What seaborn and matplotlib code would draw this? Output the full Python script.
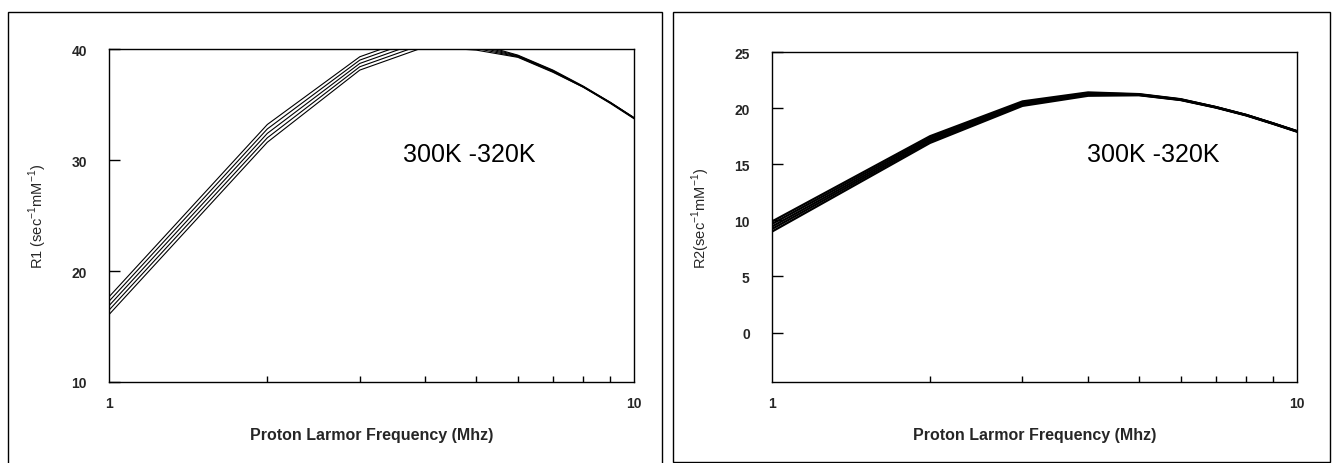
import matplotlib
matplotlib.use("Agg")
import matplotlib.pyplot as plt
import matplotlib.ticker as mticker
from matplotlib.patches import Rectangle
import seaborn as sns
import pandas as pd

# ---- data ----
freq = [1, 2, 3, 4, 5, 6, 7, 8, 9, 10]
temps = ["300K", "305K", "310K", "315K", "320K"]

r1_300 = [17.7, 33.2, 39.3, 41.4, 40.5, 39.45, 38.1, 36.65, 35.2, 33.8]
r1_305 = [17.3, 32.8, 39.0, 41.1, 40.35, 39.4, 38.05, 36.6, 35.2, 33.8]
r1_310 = [16.9, 32.4, 38.7, 40.8, 40.2, 39.35, 38.0, 36.6, 35.15, 33.75]
r1_315 = [16.5, 32.0, 38.4, 40.5, 40.05, 39.3, 37.95, 36.55, 35.15, 33.75]
r1_320 = [16.1, 31.6, 38.1, 40.2, 39.9, 39.25, 37.9, 36.55, 35.1, 33.7]

r2_300 = [9.9, 17.5, 20.6, 21.4, 21.25, 20.8, 20.1, 19.4, 18.65, 17.95]
r2_305 = [9.68, 17.35, 20.5, 21.33, 21.22, 20.78, 20.1, 19.4, 18.65, 17.95]
r2_310 = [9.45, 17.2, 20.4, 21.25, 21.2, 20.76, 20.08, 19.38, 18.63, 17.93]
r2_315 = [9.23, 17.05, 20.3, 21.18, 21.17, 20.74, 20.07, 19.37, 18.62, 17.92]
r2_320 = [9.0, 16.9, 20.2, 21.1, 21.15, 20.72, 20.05, 19.35, 18.6, 17.9]

r1_yticks = [10, 20, 30, 40]
r2_yticks = [0, 5, 10, 15, 20, 25]
annot = "300K -320K"
xlabel = "Proton Larmor Frequency (Mhz)"
ylabel1 = r"R1 (sec$^{\mathregular{-1}}$mM$^{\mathregular{-1}}$)"
ylabel2 = r"R2(sec$^{\mathregular{-1}}$mM$^{\mathregular{-1}}$)"


def long_df(series):
    rows = []
    for t, vals in zip(temps, series):
        for f, v in zip(freq, vals):
            rows.append({"freq": f, "val": v, "T": t})
    return pd.DataFrame(rows)


df1 = long_df([r1_300, r1_305, r1_310, r1_315, r1_320])
df2 = long_df([r2_300, r2_305, r2_310, r2_315, r2_320])

sns.set_theme(style="white")
plt.rcParams["font.family"] = ["Liberation Sans", "DejaVu Sans"]
plt.rcParams["mathtext.fontset"] = "custom"
plt.rcParams["mathtext.rm"] = "Liberation Sans"

fig = plt.figure(figsize=(13.33, 4.64), dpi=100)
fig.patch.set_facecolor("white")

ax1 = fig.add_axes([109.3 / 1333, 1 - 383 / 464, 525 / 1333, 333 / 464])
ax2 = fig.add_axes([772 / 1333, 1 - 383 / 464, 525 / 1333, 330 / 464])

pal = {t: "black" for t in temps}
sns.lineplot(data=df1, x="freq", y="val", hue="T", palette=pal, ax=ax1,
             legend=False, linewidth=0.8, estimator=None, sort=False)
sns.lineplot(data=df2, x="freq", y="val", hue="T", palette=pal, ax=ax2,
             legend=False, linewidth=1.6, estimator=None, sort=False)

for ax, yt, ylim, lab in [(ax1, r1_yticks, (10, 40), ylabel1),
                          (ax2, r2_yticks, (-4.4, 25), ylabel2)]:
    ax.set_xscale("log")
    ax.set_xlim(1, 10)
    ax.set_ylim(*ylim)
    ax.set_yticks(yt)
    ax.set_yticklabels([str(v) for v in yt], fontsize=10, fontweight="bold")
    ax.xaxis.set_major_locator(mticker.FixedLocator([1, 10]))
    ax.xaxis.set_major_formatter(mticker.FixedFormatter(["1", "10"]))
    ax.xaxis.set_minor_locator(mticker.FixedLocator([2, 3, 4, 5, 6, 7, 8, 9]))
    ax.xaxis.set_minor_formatter(mticker.NullFormatter())
    for t in ax.get_xticklabels():
        t.set_fontsize(10)
        t.set_fontweight("bold")
    ax.tick_params(axis="y", which="major", direction="in", length=8,
                   width=1, color="black", pad=16, left=True, right=False)
    ax.tick_params(axis="x", which="major", direction="in", length=0,
                   pad=10, bottom=True, top=False)
    ax.tick_params(axis="x", which="minor", direction="in", length=4,
                   width=1, color="black", bottom=True, top=False)
    for s in ax.spines.values():
        s.set_visible(True)
        s.set_color("black")
        s.set_linewidth(1.0)
    ax.set_xlabel(xlabel, fontsize=11.5, fontweight="bold", labelpad=12)
    ax.set_ylabel(lab, fontsize=10.5, labelpad=16)
    ax.grid(False)

ax1.text(3.63, 30.5, annot, fontsize=18, va="center", ha="left", color="black")
ax2.text(3.98, 15.9, annot, fontsize=18, va="center", ha="left", color="black")

# panel frames
fig.patches.append(Rectangle((8 / 1333, -0.05), (662 - 8) / 1333, (464 - 13) / 464 + 0.05,
                             transform=fig.transFigure, fill=False,
                             edgecolor="black", linewidth=1.0))
fig.patches.append(Rectangle((673 / 1333, 1 / 464), (1330 - 673) / 1333, (463 - 13) / 464,
                             transform=fig.transFigure, fill=False,
                             edgecolor="black", linewidth=1.0))

fig.savefig("out.png", dpi=100, facecolor="white")
